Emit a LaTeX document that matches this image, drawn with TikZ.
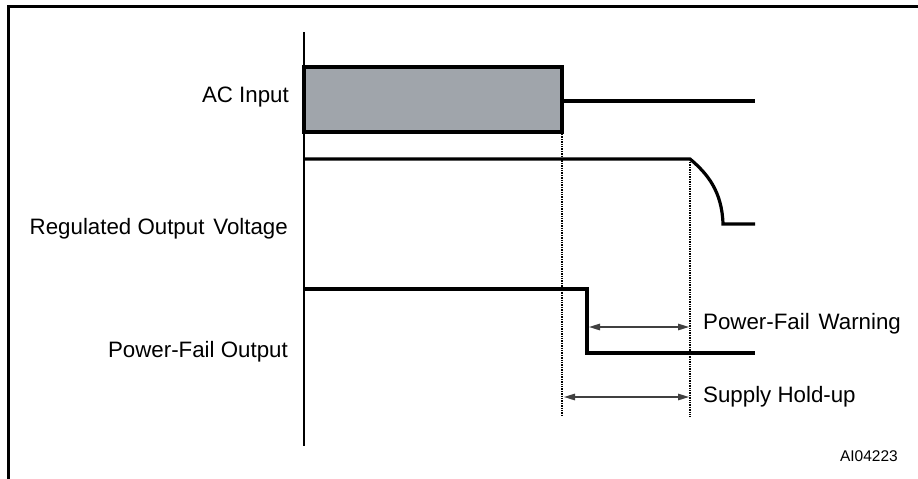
\documentclass[tikz,border=0pt]{standalone}
\usepackage{fontspec}
\setmainfont{Liberation Sans}
\usetikzlibrary{arrows.meta}
\definecolor{boxgray}{HTML}{A0A5AB}
\definecolor{arrgray}{HTML}{404040}
\tikzset{
  sig/.style={line width=3.2pt, line join=miter},
  axisline/.style={line width=2.6pt},
  dotline/.style={line width=1.6pt, dash pattern=on 1.3pt off 1.1pt},
  dimarrow/.style={line width=1.4pt, arrgray, {Triangle[length=11pt,width=6.5pt]}-{Triangle[length=11pt,width=6.5pt]}},
  lbl/.style={inner sep=0pt, font=\fontsize{22.3}{25}\selectfont},
  lblr/.style={lbl, anchor=east},
  lbll/.style={lbl, anchor=west},
}
\begin{document}
\begin{tikzpicture}[x=1pt,y=-1pt]
\useasboundingbox (0,0) rectangle (918,479);
% frame
\draw[line width=2.2pt] (8.5,6.5) rectangle (940,500);
% axis
\draw[axisline] (304,32) -- (304,446);
% AC input
\draw[sig, fill=boxgray] (304,67) rectangle (562,132);
\draw[sig] (562,101) -- (755,101);
% dotted markers
\draw[dotline] (562,134) -- (562,417);
\draw[dotline] (690,162) -- (690,417);
% regulated output
\draw[sig] (304,159) -- (690,159) .. controls (708,174) and (722,192) .. (723,224) -- (755,224);
% power fail output
\draw[sig] (304,289) -- (587,289) -- (587,353) -- (755,353);
% dimension arrows
\coordinate (w1) at (589,327);
\coordinate (w2) at (689,327);
\coordinate (h1) at (564,397);
\coordinate (h2) at (689,397);
\draw[dimarrow] (w1) -- (w2);
\draw[dimarrow] (h1) -- (h2);
% labels
\node[lblr] (acin) at (289,97) {AC Input};
\node[lblr] (regout) at (288,229) {Regulated Output\hspace{0.12em} Voltage};
\node[lblr] (pfout) at (288,352) {Power-Fail Output};
\node[lbll] (pfw) at (703,324) {Power-Fail\hspace{0.12em} Warning};
\node[lbll] (hold) at (703,397) {Supply Hold-up};
\node[inner sep=0pt, anchor=east, font=\fontsize{15.5}{18}\selectfont] (ai) at (898,456) {AI04223};
\end{tikzpicture}
\end{document}
